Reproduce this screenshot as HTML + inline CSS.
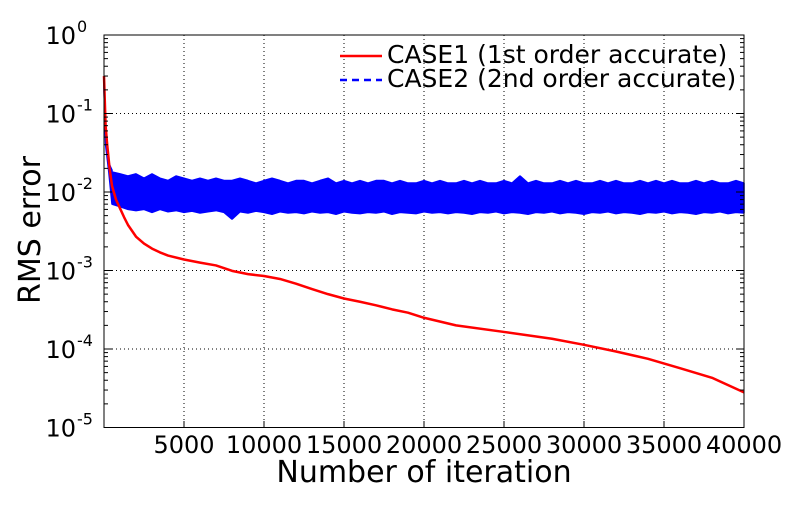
<!DOCTYPE html>
<html><head><meta charset="utf-8"><style>
body{margin:0;background:#fff;}
svg text{font-family:"DejaVu Sans","Liberation Sans",sans-serif;fill:#000;}
</style></head><body>
<svg id="chart" width="800" height="500" viewBox="0 0 800 500" xmlns="http://www.w3.org/2000/svg">
<rect width="800" height="500" fill="#fff"/>
<g id="grid"></g>
<g id="series"></g>
<rect x="104" y="35" width="640" height="392.5" fill="none" stroke="#000" stroke-width="1"/>
<g id="ticks"></g>
<text x="40" y="230" font-size="30" text-anchor="middle" transform="rotate(-90 40 230)">RMS error</text>
<text x="424" y="482" font-size="30" text-anchor="middle">Number of iteration</text>
<g>
<line x1="340" y1="56" x2="382" y2="56" stroke="#f00" stroke-width="2.5"/>
<text x="387" y="63" font-size="25">CASE1 (1st order accurate)</text>
<line x1="340" y1="80" x2="382" y2="80" stroke="#00f" stroke-width="2.5" stroke-dasharray="7,5"/>
<text x="387" y="87" font-size="25">CASE2 (2nd order accurate)</text>
</g>
</svg>
<script>
const xTicks=[5000,10000,15000,20000,25000,30000,35000,40000];
const yDecades=[0,-1,-2,-3,-4,-5];
const redX=[0,100,200,350,500,750,1000,1250,1500,2000,2500,3000,3500,4000,5000,6000,7000,8000,9000,10000,11000,12000,13000,14000,15000,16000,17000,18000,19000,20000,22000,25000,28000,30000,32000,34000,36000,38000,40000];
const redY=[0.3,0.07,0.04,0.02,0.012,0.008,0.0062,0.0048,0.0038,0.0027,0.0022,0.0019,0.0017,0.00155,0.00138,0.00126,0.00116,0.00099,0.0009,0.00085,0.00078,0.00068,0.00058,0.0005,0.00044,0.0004,0.00036,0.00032,0.00029,0.00025,0.0002,0.000165,0.000135,0.000113,0.000093,0.000075,0.000057,0.000043,0.000028];
const blueStartX=[0,50,100,200,300,400,500];
const blueStartY=[0.25,0.09,0.05,0.03,0.024,0.021,0.019];
const blueHi=[0.018,0.017,0.016,0.017,0.015,0.017,0.015,0.014,0.016,0.015,0.014,0.015,0.014,0.015,0.014,0.014,0.015,0.014,0.013,0.014,0.015,0.014,0.013,0.014,0.014,0.013,0.014,0.015,0.013,0.014,0.013,0.014,0.013,0.014,0.014,0.013,0.014,0.013,0.013,0.014,0.013,0.014,0.013,0.013,0.014,0.013,0.014,0.013,0.013,0.014,0.013,0.016,0.013,0.014,0.013,0.013,0.014,0.013,0.014,0.013,0.013,0.014,0.013,0.014,0.013,0.013,0.014,0.013,0.014,0.013,0.014,0.013,0.013,0.014,0.013,0.014,0.013,0.013,0.014,0.013];
const blueLo=[0.007,0.0065,0.006,0.0058,0.006,0.0055,0.006,0.0056,0.0058,0.0055,0.0057,0.0054,0.0056,0.0058,0.0055,0.0045,0.0056,0.0054,0.0057,0.0055,0.0052,0.0056,0.0054,0.0055,0.0053,0.0056,0.0054,0.0055,0.0052,0.0056,0.0054,0.0053,0.0055,0.0054,0.0056,0.0052,0.0055,0.0054,0.0053,0.0056,0.0054,0.0055,0.0053,0.0055,0.0054,0.0052,0.0055,0.0054,0.0056,0.0053,0.0055,0.0054,0.0052,0.0055,0.0054,0.0056,0.0053,0.0055,0.0054,0.0052,0.0055,0.0054,0.0056,0.0053,0.0055,0.0054,0.0052,0.0055,0.0054,0.0056,0.0053,0.0055,0.0054,0.0052,0.0055,0.0054,0.0056,0.0053,0.0055,0.0054];
const blueStep=500;
const NS='http://www.w3.org/2000/svg';
const X0=104,X1=744,Y0=35,DEC=78.5;
const sx=v=>X0+(v/40000)*(X1-X0);
const sy=v=>Y0+(-Math.log10(v))*DEC;
function mk(tag,attrs,parent){const e=document.createElementNS(NS,tag);for(const k in attrs)e.setAttribute(k,attrs[k]);parent.appendChild(e);return e;}
const gridG=document.getElementById('grid'),ticksG=document.getElementById('ticks'),seriesG=document.getElementById('series');
xTicks.forEach(t=>{
  const x=sx(t);
  const g=mk('line',{x1:x,y1:Y0,x2:x,y2:427.5,stroke:'#000','stroke-dasharray':'1,3','stroke-width':1},gridG);
  
  
  mk('line',{x1:x,y1:427.5,x2:x,y2:421,stroke:'#000'},ticksG);
  const tx=mk('text',{x:x,y:453,'font-size':24,'text-anchor':'middle'},ticksG);
  tx.textContent=t;
  
  
});
yDecades.forEach(d=>{
  const y=sy(Math.pow(10,d));
  if(d!==0&&d!==-5){
    const g=mk('line',{x1:X0,y1:y,x2:X1,y2:y,stroke:'#000','stroke-dasharray':'1,3','stroke-width':1},gridG);
    
    
  }
  mk('line',{x1:X0,y1:y,x2:X0+8,y2:y,stroke:'#000'},ticksG);
  mk('line',{x1:X1,y1:y,x2:X1-8,y2:y,stroke:'#000'},ticksG);
  const tx=mk('text',{x:76,y:y+9,'font-size':24,'text-anchor':'end'},ticksG);
  tx.textContent='10';
  
  
  const sup=mk('text',{x:77,y:y-3,'font-size':16},ticksG);
  sup.textContent=String(d);
  if(d>-5){for(let m=2;m<10;m++){const yy=sy(m*Math.pow(10,d-1));mk('line',{x1:X0,y1:yy,x2:X0+4,y2:yy,stroke:'#000'},ticksG);mk('line',{x1:X1,y1:yy,x2:X1-4,y2:yy,stroke:'#000'},ticksG);}}
});
let upperPts=blueStartX.map((x,i)=>sx(x)+','+sy(blueStartY[i]));
blueHi.forEach((v,i)=>upperPts.push(sx((i+1)*blueStep)+','+sy(v)));
let lowerPts=blueLo.map((v,i)=>sx((i+1)*blueStep)+','+sy(v)).reverse();
lowerPts.push(sx(300)+','+sy(0.018),sx(100)+','+sy(0.04),sx(0)+','+sy(0.2));
const band=mk('polygon',{points:upperPts.concat(lowerPts).join(' '),fill:'#00f',stroke:'#00f','stroke-width':1.5,'stroke-linejoin':'bevel'},seriesG);


const red=mk('polyline',{points:redX.map((x,i)=>sx(x)+','+sy(redY[i])).join(' '),fill:'none',stroke:'#f00','stroke-width':2.5,'stroke-linejoin':'round'},seriesG);


</script>
</body></html>
